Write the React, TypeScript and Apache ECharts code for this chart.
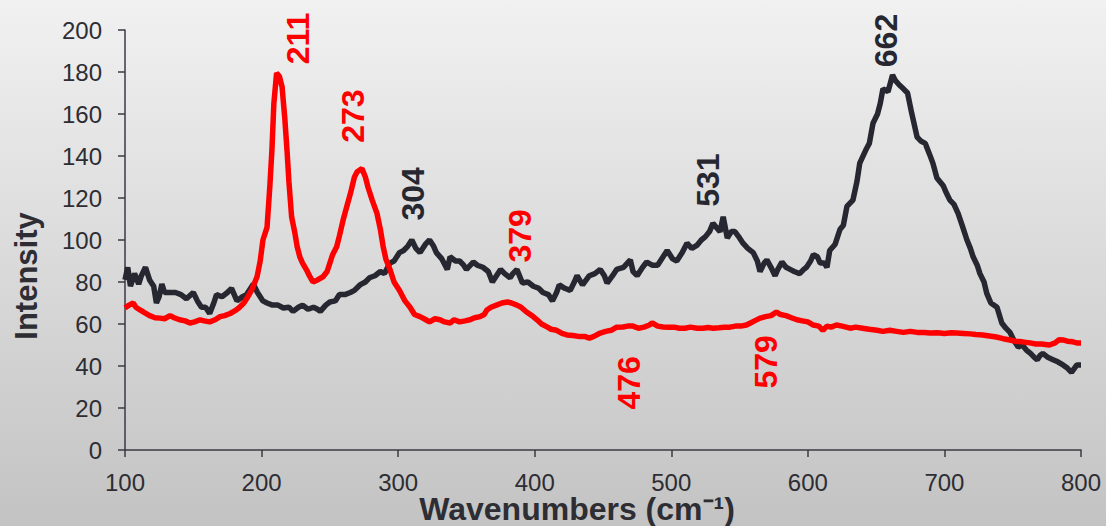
import React, { useEffect, useRef } from "react";
import * as echarts from "echarts";

// Dark spectrum (wavenumber, intensity)
const darkX = [100,102,104,107,110,112,115,118,121,123,125,127,129,133,137,141,145,150,153,156,159,162,165,167,171,175,178,182,186,189,192,194,197,201,204,208,212,216,220,223,227,230,234,238,241,243,247,250,254,257,261,265,268,272,276,279,283,287,290,294,297,301,304,307,310,313,316,320,323,326,328,332,336,338,342,345,348,350,355,358,362,366,369,372,375,378,382,384,387,391,395,399,403,406,410,413,416,418,422,426,429,431,435,440,444,448,451,453,457,460,465,470,472,475,479,482,486,490,494,497,501,504,508,511.5,515,519,522,525,528,530.5,533,535.7,538,541,544,546.6,550,552.5,556,560,563,565,568,570,573,576,578,581,584,587,590,594,597,599,602,604,607,609,612,614,616,620,623.5,626,628.6,633,636,638,643,645,647.7,651,653,655,658.7,662,664,667,670,673,676,680,683,686,689,691.6,694.5,699,701,704,707,710,713,716.5,719,721,724,726,729,731,734,738.5,742,745,748,751,754,757,760,763,766,768,770,772,776,779.5,783,786.8,790,793,797,800];
const darkY = [81,87,78,84,79,83,87,81,78,70,73,79,75,75,75,74,72,75,71,68,68,65,70,74,73,75,77,71,73,74,77,79,75,71,70,69,69,67.6,68,66,68,69,67,68,67,66,69,70.5,71,74,74,75,76,78.6,80,82,83,85,84,89,90,94,95,97,100,96,94,98,100,97,94,91,86,92,90,90,88,86,89.5,88,87,85,80,83,86,84,82,84,86,79.5,80,78,77,75,74,71,75,78.6,77,76,80,83,78.6,83,84,86,83,79.5,83,86,87,90.5,85,83,87,89.5,88,88,92,95,91,90,94,98.5,96,97.6,100,101.6,104,108,106,104,111,101,104,104,101,98.5,96,94,90,85,89,90.5,87,83,86,89.5,87,86,85,84,86,87,90,93,92,89,89,87,95,98,105,107,116,119,128,136.6,143.6,146,155.6,160,165,172,170.6,178.6,176,173.8,172,170,160.5,149,147,146,141,136.5,129.5,126,123,119,117,112.7,107,100,96,92,88,84,80,74.6,70,68,60.5,58,56,52,49,50,47.6,46,44,43,45,46,44,43,42,40.5,39,37,40.5,40.5];

// Red spectrum (wavenumber, intensity)
const redX = [100,103,106,108,111,114,118,122,125.6,129,133,136,140,144,147.6,151,155,158,162,166,169.6,173,177,181,184,187,190,193,196.7,199,201,204,206,207.6,209,211,213,215,217,218.6,220,222,224.5,226,228,230,233,235,237.6,241,245,248,250,252,255,257,259.7,262,265,268,270,273.5,276,278,281,284.5,287,289,291,294,297,301,305,308.7,312,316,319,323,327,330.6,334,338,341,345,349,352.6,356,360,363,365,368,372,376,380,383,387,390,394,398,401.7,405,409,412,416,420,423.6,428,433,437,440,443,448,452,456,460,464.6,468,472,476,480,484,486,490,494,498,502,506,510,514,519,523,527,530.5,535,539,543,547,551,555,558,561,565,569,573,577,580,584,588,592,596,600,604,608,611,614,617,621,625,628,631,635,640,645,650.6,655,660,665,670,675,680,685,689.5,695,700,705,709,714,719,723,728,733,738,743,748,752,757,762.6,767,771,777,781,784,786.8,790,794,797,800];
const redY = [67.6,69,70,68,66.7,65.5,64,63,62.8,62.5,64,63,62,61.5,60.5,61,62,61.5,61,62,63.5,64,65,66.5,68,70,73,76.5,82.5,90,100,106,125,143,165,179.5,178,173,158,143,128,111,103,97,92,89,85.7,83,80,81,82.5,85,89,93,96.8,102,109.5,115,122,130,132.5,134,130,125,119,112.7,105,97,91,86,80,76,71,68,64.5,63.5,62.5,61,62.5,62,61,60.5,62,61,61.5,62,63,63.5,64.5,66.7,68,69,70,70.5,70,69,68,65.7,64,62,60,58.6,57.5,57,55.5,54.8,54.5,54,54,53.3,54,55.7,56.5,57,58.5,58.6,59,59,58,58.5,59.5,60.5,59,58.6,58.5,58.5,58,58,58.5,58,58,58.3,58,58.2,58.5,58.5,59,59,59.5,60.5,61.5,62.8,63.5,64,65.7,64.5,64,63,62,61.5,61,59.5,59,57,59,58.5,59.5,59,58.5,58,58.5,58,57.5,57,56.5,57,56.5,56,56.5,56,56,55.7,55.8,55.5,55.8,55.7,55.5,55.3,55,54.8,54.3,53.8,53,52.4,51.8,51.5,51,50.5,50.5,50,51,52.5,52.4,51.8,51.5,51,51];

// Peak annotations: label text, anchor wavenumber, anchor intensity
const darkPeakLabels = ["304", "531", "662"];
const darkPeakX = [311, 527, 657];
const darkPeakY = [122, 128.5, 195];
const redPeakLabels = ["211", "273", "379", "476", "579"];
const redPeakX = [226.5, 267, 389.5, 469, 569.5];
const redPeakY = [196, 159, 102, 32, 42];

const xTicks = { min: 100, max: 800, interval: 100 };
const yTicks = { min: 0, max: 200, interval: 20 };

const DARK = "#262730";
const RED = "#ff0000";
const TEXT = "#2d2d33";
const FONT = "'Liberation Sans', Arial, sans-serif";

const pairs = (xs: number[], ys: number[]) => xs.map((x, i) => [x, ys[i]]);

export default function App() {
  const ref = useRef<HTMLDivElement>(null);
  useEffect(() => {
    document.body.style.margin = "0";
    if (!ref.current) return;
    const chart = echarts.init(ref.current, undefined, { renderer: "svg" });
    const peakSeries = (labels: string[], xs: number[], ys: number[], color: string) => ({
      type: "scatter",
      silent: true,
      symbolSize: 0,
      z: 5,
      itemStyle: { color, opacity: 1 },
      data: labels.map((t, i) => ({ value: [xs[i], ys[i]], name: t })),
      label: {
        show: true,
        position: "inside",
        rotate: 90,
        formatter: (p: any) => p.name,
        color,
        opacity: 1,
        textBorderWidth: 0,
        textShadowBlur: 0,
        fontSize: 32,
        fontWeight: "bold",
        fontFamily: FONT,
      },
    });
    chart.setOption({
      animation: false,
      backgroundColor: new echarts.graphic.LinearGradient(0, 0, 0, 1, [
        { offset: 0, color: "#f1f1f1" },
        { offset: 1, color: "#c3c3c3" },
      ]),
      grid: { left: 125, right: 25, top: 30, bottom: 76 },
      xAxis: {
        type: "value",
        ...xTicks,
        axisLine: { lineStyle: { color: "#3a3a42", width: 1.5 } },
        axisTick: { show: true, length: 7, lineStyle: { color: "#3a3a42", width: 1.5 } },
        splitLine: { show: false },
        axisLabel: { color: TEXT, fontSize: 24, lineHeight: 18, fontFamily: FONT, margin: 23 },
      },
      yAxis: {
        type: "value",
        ...yTicks,
        axisLine: { show: true, lineStyle: { color: "#3a3a42", width: 1.5 } },
        axisTick: { show: true, length: 7, lineStyle: { color: "#3a3a42", width: 1.5 } },
        splitLine: { show: false },
        axisLabel: { color: TEXT, fontSize: 24, fontFamily: FONT, margin: 23 },
      },
      graphic: [
        {
          type: "text",
          x: 26,
          y: 276,
          rotation: Math.PI / 2,
          style: {
            text: "Intensity",
            fill: TEXT,
            font: `bold 31px ${FONT}`,
            textAlign: "center",
            textVerticalAlign: "middle",
          },
        },
        {
          type: "text",
          x: 577,
          y: 509,
          style: {
            text: "Wavenumbers (cm\u207B\u00B9)",
            fill: TEXT,
            font: `bold 32px ${FONT}`,
            textAlign: "center",
            textVerticalAlign: "middle",
          },
        },
      ],
      series: [
        {
          type: "line",
          name: "dark",
          data: pairs(darkX, darkY),
          showSymbol: false,
          symbol: "none",
          lineStyle: { color: DARK, width: 5.5 },
          z: 2,
        },
        {
          type: "line",
          name: "red",
          data: pairs(redX, redY),
          showSymbol: false,
          symbol: "none",
          lineStyle: { color: RED, width: 5.5 },
          z: 3,
        },
        peakSeries(darkPeakLabels, darkPeakX, darkPeakY, DARK),
        peakSeries(redPeakLabels, redPeakX, redPeakY, RED),
      ],
    });
    return () => chart.dispose();
  }, []);
  return <div ref={ref} style={{ width: 1106, height: 526 }} />;
}
